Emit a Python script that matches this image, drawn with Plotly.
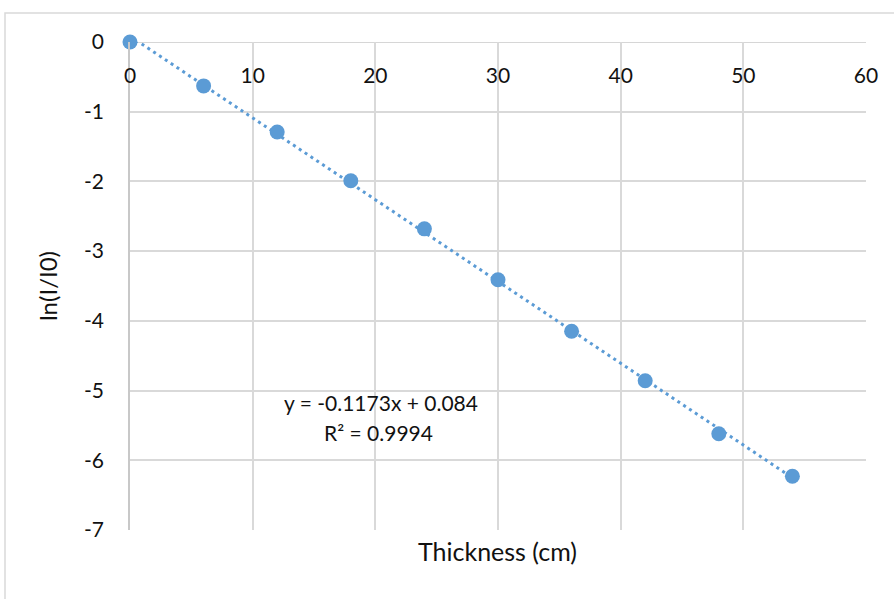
import plotly.graph_objects as go

# Attenuation measurements: absorber thickness vs. log of relative intensity
thickness_cm = [0, 6, 12, 18, 24, 30, 36, 42, 48, 54]
ln_ratio = [0.0, -0.63, -1.29, -1.99, -2.68, -3.41, -4.15, -4.86, -5.62, -6.23]

# Linear fit reported on the chart
slope = -0.1173
intercept = 0.084
r_squared = 0.9994

x_ticks = [0, 10, 20, 30, 40, 50, 60]
y_ticks = [0, -1, -2, -3, -4, -5, -6, -7]
y_tick_text = ["0", "-1", "-2", "-3", "-4", "-5", "-6", "-7"]

blue = "#5B9BD5"
grid = "#d9d9d9"
axis_line = "#c8c8c8"
font_family = "Lato, 'Open Sans', sans-serif"
text_color = "#111111"

fit_x = [thickness_cm[0], thickness_cm[-1]]
fit_y = [slope * v + intercept for v in fit_x]

fig = go.Figure()
fig.add_trace(go.Scatter(
    x=fit_x, y=fit_y, mode="lines",
    line=dict(color=blue, width=3, dash="3px,4px"),
    hoverinfo="skip", showlegend=False, cliponaxis=False,
))
fig.add_trace(go.Scatter(
    x=thickness_cm, y=ln_ratio, mode="markers",
    marker=dict(color=blue, size=15),
    showlegend=False, cliponaxis=False,
))

fig.update_layout(
    width=894, height=599,
    margin=dict(l=130, r=28, t=42, b=69),
    paper_bgcolor="white", plot_bgcolor="white",
    font=dict(family=font_family, size=21, color=text_color),
    xaxis=dict(
        range=[0, 60], tickvals=x_ticks, ticks="",
        showgrid=True, gridcolor=grid, gridwidth=1.5,
        zeroline=False, showline=False,
        anchor="free", position=1, side="bottom",
        ticklabelstandoff=19, automargin=False,
        tickfont=dict(size=21),
    ),
    yaxis=dict(
        range=[-7, 0], tickvals=y_ticks, ticktext=y_tick_text, ticks="",
        showgrid=True, gridcolor=grid, gridwidth=1.5,
        zeroline=False, showline=True, linecolor=axis_line, linewidth=1.5,
        ticklabelstandoff=20, automargin=False,
        title=dict(text="ln(I/I0)", standoff=20, font=dict(size=24)),
        tickfont=dict(size=21),
    ),
    shapes=[
        # x axis line along y = 0
        dict(type="line", xref="x", yref="y", x0=0, x1=60, y0=0, y1=0,
             line=dict(color=axis_line, width=1.5), layer="below"),
        # outer chart frame
        dict(type="rect", xref="paper", yref="paper",
             x0=(5 - 130) / 736, x1=1.2, y0=-0.3, y1=(530 - 13) / 488,
             line=dict(color=grid, width=1.5), fillcolor="rgba(0,0,0,0)",
             layer="below"),
    ],
    annotations=[
        dict(text="Thickness (cm)", xref="paper", yref="paper",
             x=(497 - 130) / 736, y=(530 - 551) / 488, showarrow=False,
             xanchor="center", yanchor="middle", font=dict(size=25)),
        dict(text=f"y = {slope}x + {intercept}", xref="x", yref="y",
             x=(381 - 130) / 12.267, y=-(402 - 42) / 69.71, showarrow=False,
             xanchor="center", yanchor="middle", font=dict(size=21)),
        dict(text=f"R² = {r_squared}", xref="x", yref="y",
             x=(379 - 130) / 12.267, y=-(432 - 42) / 69.71, showarrow=False,
             xanchor="center", yanchor="middle", font=dict(size=21)),
    ],
)

fig.write_html("out.html")
